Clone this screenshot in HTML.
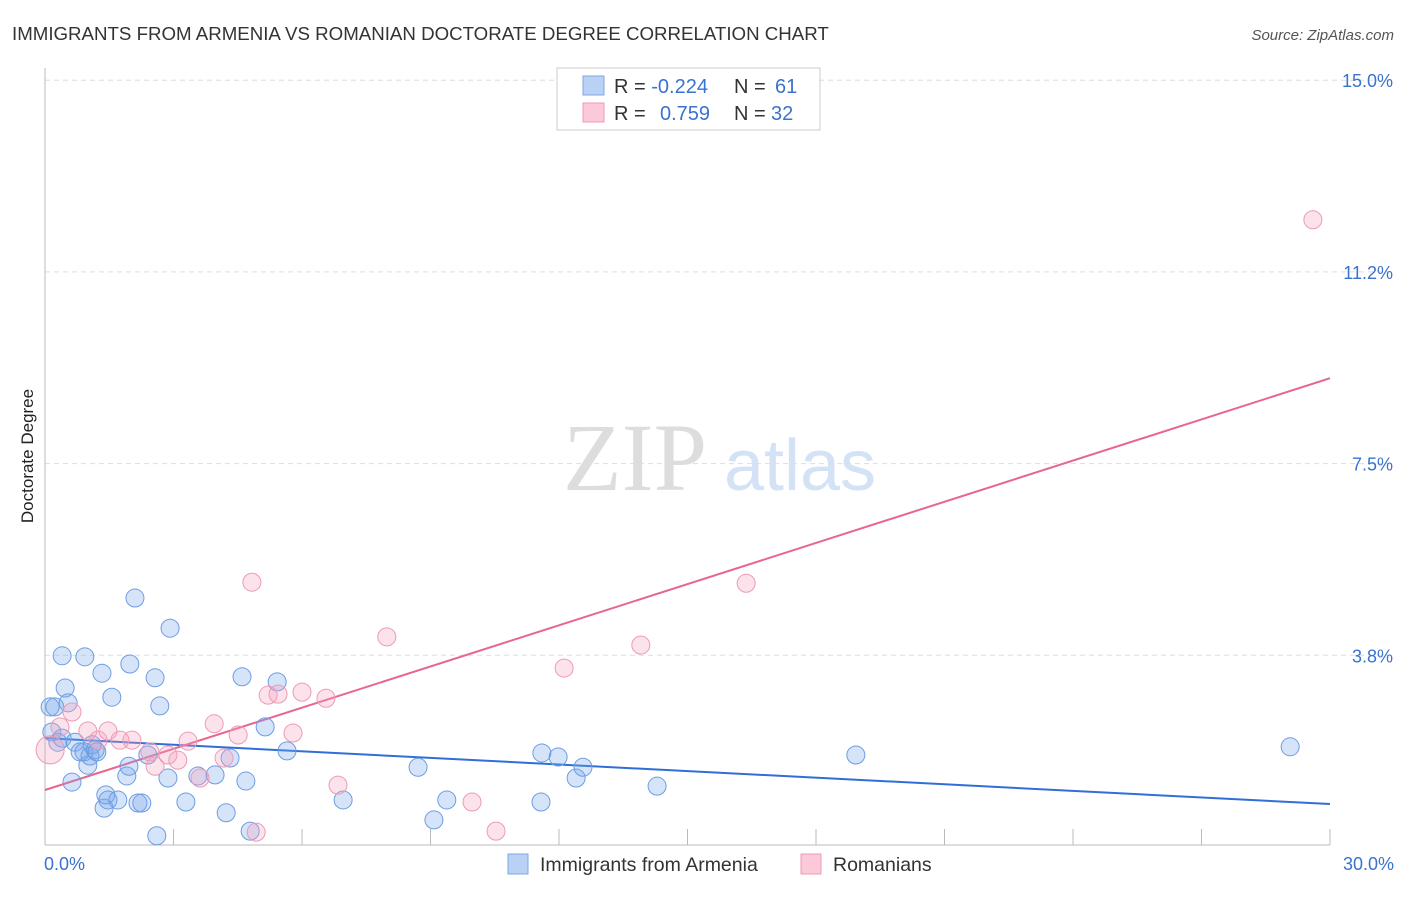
<!DOCTYPE html>
<html><head><meta charset="utf-8"><style>
body{margin:0;background:#fff;font-family:"Liberation Sans",sans-serif;}
svg text{font-family:"Liberation Sans",sans-serif;}
</style></head><body>
<svg id="chart" width="1406" height="892" xmlns="http://www.w3.org/2000/svg">
<text x="12" y="40" font-size="18.7" fill="#333">IMMIGRANTS FROM ARMENIA VS ROMANIAN DOCTORATE DEGREE CORRELATION CHART</text>
<text x="1394" y="40" font-size="15" fill="#555" text-anchor="end" font-style="italic">Source: ZipAtlas.com</text>
<text x="33" y="456" font-size="17" fill="#222" text-anchor="middle" transform="rotate(-90 33 456)">Doctorate Degree</text>
<g><text x="635" y="490" font-size="96" fill="#ddd" font-family="Liberation Serif" text-anchor="middle" style="font-family:'Liberation Serif',serif">ZIP</text><text x="800" y="490" font-size="72" fill="#d4e2f6" text-anchor="middle">atlas</text></g>
<g id="grid"></g><g id="axes"></g><g id="lines"></g><g id="pts"></g>
<g>
<rect x="557" y="68" width="263" height="62" fill="#fff" stroke="#ccc"/>
<rect x="583" y="76" width="21" height="19" fill="#b9d1f5" stroke="#7ea6e6"/>
<rect x="583" y="103" width="21" height="19" fill="#fcc9d8" stroke="#ee9ab5"/>
<text x="614" y="93" font-size="20" fill="#333">R = <tspan fill="#3a72d0">-0.224</tspan><tspan x="734">N = </tspan><tspan x="775" fill="#3a72d0">61</tspan></text>
<text x="614" y="120" font-size="20" fill="#333">R = <tspan x="660" fill="#3a72d0">0.759</tspan><tspan x="734">N = </tspan><tspan x="771" fill="#3a72d0">32</tspan></text>
</g>
<g>
<rect x="508" y="854" width="20" height="20" fill="#b9d1f5" stroke="#7ea6e6"/>
<text x="540" y="871" font-size="19.5" fill="#333">Immigrants from Armenia</text>
<rect x="801" y="854" width="20" height="20" fill="#fcc9d8" stroke="#ee9ab5"/>
<text x="833" y="871" font-size="19.5" fill="#333">Romanians</text>
</g>
</svg>
<script>
const yTicks=[3.75,7.5,11.25,15];
const yTickLabels=["3.8%","7.5%","11.2%","15.0%"];
const xTickVals=[0,3,6,9,12,15,18,21,24,27,30];
const xEndLabels=["0.0%","30.0%"];
const blueX=[0.12,0.23,0.16,0.30,0.40,0.47,0.40,0.54,0.63,0.70,0.82,0.93,0.91,1.00,1.05,1.10,1.17,1.21,1.33,1.38,1.42,1.47,1.56,1.70,1.91,1.96,1.98,2.10,2.17,2.26,2.40,2.57,2.61,2.68,2.87,2.92,3.29,3.57,3.97,4.23,4.32,4.60,4.69,4.79,5.14,5.42,5.65,6.96,8.71,9.08,9.38,11.58,11.60,11.98,12.40,12.56,14.29,18.93,29.07];
const blueY=[2.74,2.74,2.25,2.05,2.13,3.11,3.74,2.82,1.27,2.05,1.86,3.72,1.86,1.60,1.78,2.00,1.90,1.86,3.40,0.76,1.02,0.92,2.93,0.92,1.39,1.58,3.58,4.87,0.86,0.86,1.80,3.31,0.22,2.76,1.35,4.28,0.88,1.39,1.41,0.67,1.74,3.33,1.29,0.31,2.35,3.23,1.88,0.92,1.56,0.53,0.92,0.88,1.84,1.76,1.35,1.56,1.19,1.80,1.96];
const pinkX=[0.12,0.35,0.63,1.00,1.24,1.47,1.75,2.03,2.45,2.57,2.87,3.10,3.34,3.62,3.95,4.18,4.51,4.83,4.93,5.21,5.44,5.79,6.00,6.56,6.84,7.98,9.97,10.53,12.12,13.91,16.37,29.60];
const pinkY=[1.90,2.35,2.64,2.27,2.09,2.27,2.09,2.09,1.86,1.58,1.80,1.70,2.07,1.35,2.41,1.74,2.19,5.18,0.29,2.97,2.99,2.23,3.03,2.91,1.21,4.11,0.88,0.31,3.50,3.95,5.16,12.27];
const blueTrend=[2.13,0.84];
const pinkTrend=[1.115,9.17];
const X=v=>45+v/30*1285, Y=v=>847-v/3.75*191.7;
const NS="http://www.w3.org/2000/svg";
function mk(p,tag,a){const e=document.createElementNS(NS,tag);for(const k in a)e.setAttribute(k,a[k]);document.getElementById(p).appendChild(e);return e;}
yTicks.forEach((t,i)=>{
 const l=mk('grid','line',{x1:45,x2:1392,y1:Y(t),y2:Y(t),stroke:'#ddd','stroke-dasharray':'5,4'});
 
 
 const tx=mk('grid','text',{x:1393,y:Y(t)+7,'font-size':18,fill:'#3a72d0','text-anchor':'end'});
 tx.textContent=yTickLabels[i];
 
 
});
const ax=mk('axes','line',{x1:45,x2:45,y1:68,y2:845,stroke:'#bbb'});


const bx=mk('axes','line',{x1:45,x2:1330,y1:845,y2:845,stroke:'#bbb'});


xTickVals.forEach(v=>{
 const t=mk('axes','line',{x1:X(v),x2:X(v),y1:829,y2:845,stroke:'#bbb'});
 
 
});
[[0,'start',44],[30,'end',1394]].forEach((d,i)=>{
 const t=mk('axes','text',{x:d[2],y:870,'font-size':18,fill:'#3a72d0','text-anchor':d[1]});
 t.textContent=xEndLabels[i];
 
 
});
function pts(xs,ys,fill,stroke,name){xs.forEach((x,i)=>{
 const c=mk('pts','circle',{cx:X(x),cy:Y(ys[i]),r:(name==='romanians-point'&&i===0)?14:9,fill:fill,stroke:stroke,'stroke-width':1});
 
 
});}
pts(blueX,blueY,'rgba(120,165,235,0.3)','#6d9de3','armenia-point');
pts(pinkX,pinkY,'rgba(245,160,190,0.3)','#ee9ab5','romanians-point');
const bl=mk('lines','line',{x1:X(0),y1:Y(blueTrend[0]),x2:X(30),y2:Y(blueTrend[1]),stroke:'#2f6fd6','stroke-width':2});


const pl=mk('lines','line',{x1:X(0),y1:Y(pinkTrend[0]),x2:X(30),y2:Y(pinkTrend[1]),stroke:'#e8668e','stroke-width':2});


</script>
</body></html>
